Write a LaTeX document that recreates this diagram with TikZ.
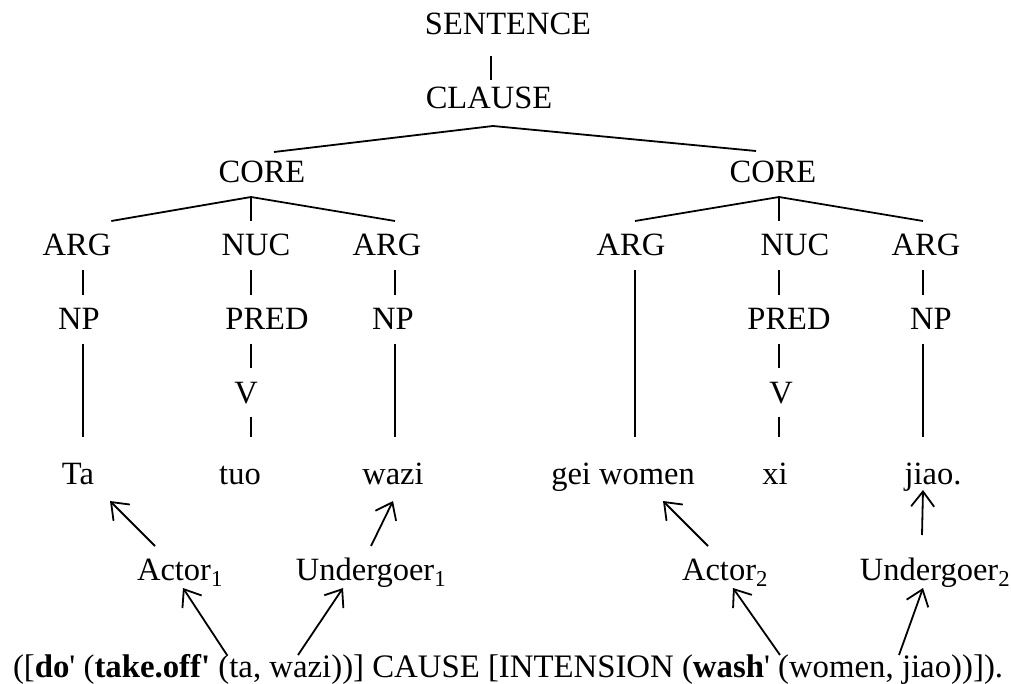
\documentclass[tikz,border=0pt]{standalone}
\usepackage{fontspec}
\setmainfont{Liberation Serif}[Ligatures=TeXOff]
\usetikzlibrary{arrows.meta}

\begin{document}
\begin{tikzpicture}[x=1pt, y=-1pt, line width=1.8pt,
  txt/.style={inner sep=0pt, outer sep=0pt, anchor=base,
    font=\fontsize{32.5}{39}\selectfont},
  lab/.style={txt, text height=35pt, text depth=14pt},
  leaf/.style={txt, text height=47.5pt, text depth=17pt},
  role/.style={txt, text height=34pt, text depth=8pt},
  formula/.style={inner sep=0pt, outer sep=0pt, anchor=base west,
    text height=22pt, text depth=0pt, font=\fontsize{32.8}{39}\selectfont},
  arr/.style={-{Straight Barb[length=15pt,width=23pt]}}]

\useasboundingbox (0,0) rectangle (1011,684);

% column axes of the tree
\coordinate (c1) at (83,0);
\coordinate (c2) at (251,0);
\coordinate (c3) at (395,0);
\coordinate (c4) at (635,0);
\coordinate (c5) at (779,0);
\coordinate (c6) at (923,0);

% tree labels
\node[lab] (sent) at (508,35) {SENTENCE};
\node[lab] (clause) at (489,109) {CLAUSE};
\node[lab] (core1) at (262,183) {CORE};
\node[lab] (core2) at (773,183) {CORE};

\node[lab] (arg1) at (77,256) {ARG};
\node[lab] (nuc1) at (256,256) {NUC};
\node[lab] (arg2) at (387,256) {ARG};
\node[lab] (arg3) at (631,256) {ARG};
\node[lab] (nuc2) at (795,256) {NUC};
\node[lab] (arg4) at (926,256) {ARG};

\node[lab] (np1) at (79,330) {NP};
\node[lab] (pred1) at (267,330) {PRED};
\node[lab] (np2) at (393,330) {NP};
\node[lab] (pred2) at (789,330) {PRED};
\node[lab] (np4) at (931,330) {NP};

\node[lab] (v1) at (246,403) {V};
\node[lab] (v2) at (781,403) {V};

% words
\node[leaf] (ta) at (78,484) {Ta};
\node[leaf] (tuo) at (240,484) {tuo};
\node[leaf] (wazi) at (393,484) {wazi};
\node[leaf] (gei) at (623,484) {gei women};
\node[leaf] (xi) at (775,484) {xi};
\node[leaf] (jiao) at (933,484) {jiao.};

% macroroles
\node[role] (act1) at (180,580) {Actor\textsubscript{1}};
\node[role] (und1) at (371,580) {Undergoer\textsubscript{1}};
\node[role] (act2) at (725,580) {Actor\textsubscript{2}};
\node[role] (und2) at (935,580) {Undergoer\textsubscript{2}};

% logical structure
\node[formula] (ls) at (13,677) {([\textbf{do}' (\textbf{take.off'} (ta, wazi))] CAUSE [INTENSION (\textbf{wash}' (women, jiao))]).};

% tree branches
\draw ([xshift=-17pt,yshift=-7pt]sent.south) -- ([xshift=2pt,yshift=-6pt]clause.north);
\draw ([shift={(12pt,-4pt)}]core1.north) -- ([shift={(4pt,-3pt)}]clause.south)
      -- ([shift={(-17pt,-3pt)}]core2.north);

\draw (arg1.north east) -- (c2 |- core1.south) -- (c3 |- arg2.north);
\draw (c2 |- core1.south) -- (c2 |- nuc1.north);
\draw (c4 |- arg3.north) -- (c5 |- core2.south) -- (c6 |- arg4.north);
\draw (c5 |- core2.south) -- (c5 |- nuc2.north);

\draw (c1 |- arg1.south) -- (c1 |- np1.north);
\draw (c1 |- np1.south) -- (c1 |- ta.north);
\draw (c2 |- nuc1.south) -- (c2 |- pred1.north);
\draw (c2 |- pred1.south) -- (c2 |- v1.north);
\draw (c2 |- v1.south) -- (c2 |- tuo.north);
\draw (c3 |- arg2.south) -- (c3 |- np2.north);
\draw (c3 |- np2.south) -- (c3 |- wazi.north);

\draw (c4 |- arg3.south) -- (c4 |- gei.north);
\draw (c5 |- nuc2.south) -- (c5 |- pred2.north);
\draw (c5 |- pred2.south) -- (c5 |- v2.north);
\draw (c5 |- v2.south) -- (c5 |- xi.north);
\draw (c6 |- arg4.south) -- (c6 |- np4.north);
\draw (c6 |- np4.south) -- (c6 |- jiao.north);

% linking: macroroles to words
\draw[arr] ([xshift=-25pt]act1.north) -- ([xshift=32pt]ta.south);
\draw[arr] (und1.north) -- (wazi.south);
\draw[arr] ([xshift=-17pt]act2.north) -- ([xshift=40pt]gei.south);
\draw[arr] ([shift={(-13pt,11pt)}]und2.north) -- ([shift={(-10pt,11pt)}]jiao.south);

% linking: logical structure to macroroles
\draw[arr] ([xshift=214pt]ls.north west) -- ([xshift=3pt]act1.south);
\draw[arr] ([xshift=285pt]ls.north west) -- ([xshift=-28pt]und1.south);
\draw[arr] ([xshift=767pt]ls.north west) -- ([xshift=8pt]act2.south);
\draw[arr] ([xshift=886pt]ls.north west) -- ([xshift=-12pt]und2.south);
\end{tikzpicture}
\end{document}
